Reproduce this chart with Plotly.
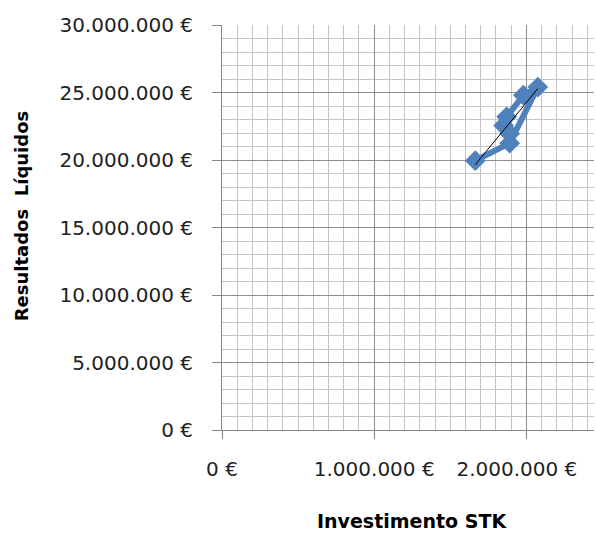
import numpy as np
import plotly.graph_objects as go

# Investment in STK vs. net results (euros), in time order
investimento = [1664000, 1890000, 2075000, 1980000, 1870000, 1850000, 1890000]
resultados = [19950000, 21250000, 25400000, 24800000, 23200000, 22550000, 21950000]

x_ticks = [0, 1000000, 2000000]
x_tick_text = ["0 €", "1.000.000 €", "2.000.000 €\u00a0\u00a0\u00a0"]

# Linear trend over the observed investment range
slope, intercept = np.polyfit(investimento, resultados, 1)
trend_x = [min(investimento), max(investimento)]
trend_y = [slope * v + intercept for v in trend_x]

BLUE = "#4f81bd"
FONT = "DejaVu Sans"

fig = go.Figure()
fig.add_trace(go.Scatter(
    x=investimento, y=resultados, mode="lines+markers",
    line=dict(color=BLUE, width=6),
    marker=dict(symbol="diamond", size=16, color=BLUE),
    showlegend=False, hoverinfo="skip",
))
fig.add_trace(go.Scatter(
    x=trend_x, y=trend_y, mode="lines",
    line=dict(color="#000000", width=1),
    showlegend=False, hoverinfo="skip",
))

fig.update_layout(
    width=596, height=535,
    margin=dict(l=222, r=0, t=25, b=105),
    paper_bgcolor="white", plot_bgcolor="white",
    separators=",.",
    font=dict(family=FONT, size=18, color="#222222"),
    xaxis=dict(
        range=[0, 2444000],
        tickvals=x_ticks, ticktext=x_tick_text,
        ticks="outside", ticklen=8, tickcolor="#868686",
        ticklabelstandoff=13, ticklabeloverflow="allow",
        showline=True, linecolor="#868686", linewidth=1,
        showgrid=True, gridcolor="#8c8c8c", gridwidth=1,
        minor=dict(dtick=100000, showgrid=True, gridcolor="#c4c4c4", gridwidth=1),
        zeroline=False,
        tickfont=dict(family=FONT, size=20, color="#222222"),
    ),
    yaxis=dict(
        range=[0, 30000000], dtick=5000000,
        tickformat=",d", ticksuffix=" €",
        ticks="outside", ticklen=9, tickcolor="#868686",
        ticklabelstandoff=15,
        showline=True, linecolor="#868686", linewidth=1,
        showgrid=True, gridcolor="#8c8c8c", gridwidth=1,
        minor=dict(dtick=1000000, showgrid=True, gridcolor="#c4c4c4", gridwidth=1),
        zeroline=False,
        tickfont=dict(family=FONT, size=20, color="#222222"),
    ),
    annotations=[
        dict(text="<b>Investimento STK</b>", xref="paper", yref="paper",
             x=0.511, y=-0.2247, xanchor="center", yanchor="middle",
             showarrow=False, font=dict(family=FONT, size=19, color="#000000")),
        dict(text="<b>Resultados\u00a0 Líquidos</b>", xref="paper", yref="paper",
             x=-0.540, y=0.528, xanchor="center", yanchor="middle", textangle=-90,
             showarrow=False, font=dict(family=FONT, size=18, color="#000000")),
    ],
)

fig.write_html("out.html")
